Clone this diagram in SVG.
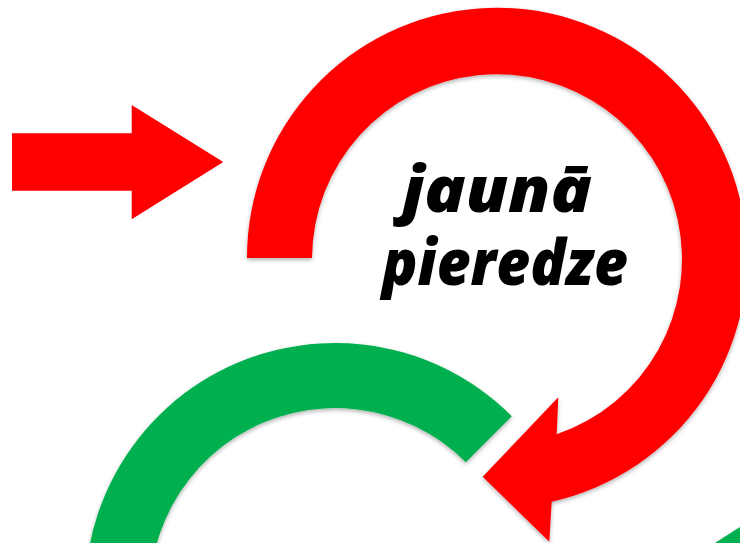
<svg xmlns="http://www.w3.org/2000/svg" width="740" height="543" viewBox="0 0 740 543">
  <style>
    .red { fill: #ff0000; }
    .green { fill: #00b050; }
    .lbl { font-family: "Open Sans", Lato, "Liberation Sans", sans-serif; font-weight: 800; font-style: italic; font-size: 63px; fill: #000000; text-anchor: middle; }
  </style>
  <defs>
    <filter id="shadow" x="-10%" y="-10%" width="120%" height="120%">
      <feDropShadow dx="0" dy="2" stdDeviation="2" flood-color="#000000" flood-opacity="0.3"/>
    </filter>
  </defs>
  <rect width="740" height="543" fill="#ffffff"/>
  <g id="connectors">
    <path id="input-arrow" class="red" d="M12 133.3 L131.7 133.3 L131.7 105 L223.3 162 L131.7 219.3 L131.7 190.7 L12 190.7 Z"/>
  </g>
  <g id="node-green-cycle" filter="url(#shadow)">
    <path class="green" d="M511.8 416.2 A250 250 0 0 0 100.1 678.5 L161.2 656.3 A185 185 0 0 1 465.8 462.2 Z"/>
    <path class="green" d="M715 543 L740 527 L740 543 Z"/>
  </g>
  <g id="node-red-cycle" filter="url(#shadow)">
    <path class="red" d="M247 258 A250 250 0 1 1 551.7 501.7 L549.3 541.7 L482.7 476.7 L558.3 397.3 L556.7 434.3 A185 185 0 1 0 312 258 Z"/>
  </g>
  <g id="node-label">
    <text class="lbl" x="497" y="211.7" textLength="190" lengthAdjust="spacingAndGlyphs">jaunā</text>
    <text class="lbl" x="505" y="285" textLength="246" lengthAdjust="spacingAndGlyphs">pieredze</text>
  </g>
</svg>
